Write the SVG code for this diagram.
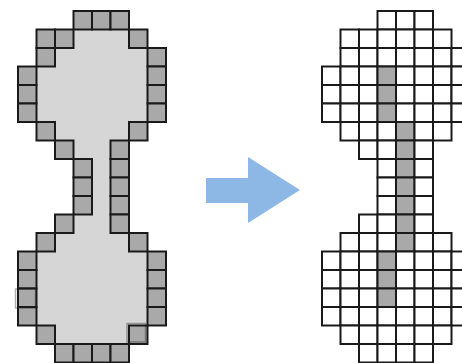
<svg xmlns="http://www.w3.org/2000/svg" width="462" height="363" viewBox="0 0 462 363">
<style>
.b{fill:#a9a9a9;stroke:#1a1a1a;stroke-width:2}
.w{fill:#ffffff;stroke:#1a1a1a;stroke-width:2}
.g{fill:#a9a9a9;stroke:#1a1a1a;stroke-width:2}
.ghost{fill:none;stroke:#1a1a1a;stroke-width:1.5;opacity:0.35}
</style>
<rect x="0" y="0" width="462" height="363" fill="#ffffff"/>
<g id="before">
<polygon fill="#d6d6d6" points="73.5,29.5 129,29.5 129,48 147.5,48 147.5,122 129,122 129,140.5 110.5,140.5 110.5,233 129,233 129,251.5 147.5,251.5 147.5,325.5 129,325.5 129,344 55,344 55,325.5 36.5,325.5 36.5,251.5 55,251.5 55,233 73.5,233 73.5,214.5 92,214.5 92,159 73.5,159 73.5,140.5 55,140.5 55,122 36.5,122 36.5,66.5 55,66.5 55,48 73.5,48"/>
<g>
<rect class="b" x="73.5" y="11" width="18.5" height="18.5"/><rect class="b" x="92" y="11" width="18.5" height="18.5"/><rect class="b" x="110.5" y="11" width="18.5" height="18.5"/>
<rect class="b" x="36.5" y="29.5" width="18.5" height="18.5"/><rect class="b" x="55" y="29.5" width="18.5" height="18.5"/><rect class="b" x="129" y="29.5" width="18.5" height="18.5"/>
<rect class="b" x="36.5" y="48" width="18.5" height="18.5"/><rect class="b" x="147.5" y="48" width="18.5" height="18.5"/>
<rect class="b" x="18" y="66.5" width="18.5" height="18.5"/><rect class="b" x="147.5" y="66.5" width="18.5" height="18.5"/>
<rect class="b" x="18" y="85" width="18.5" height="18.5"/><rect class="b" x="147.5" y="85" width="18.5" height="18.5"/>
<rect class="b" x="18" y="103.5" width="18.5" height="18.5"/><rect class="b" x="147.5" y="103.5" width="18.5" height="18.5"/>
<rect class="b" x="36.5" y="122" width="18.5" height="18.5"/><rect class="b" x="129" y="122" width="18.5" height="18.5"/>
<rect class="b" x="55" y="140.5" width="18.5" height="18.5"/><rect class="b" x="110.5" y="140.5" width="18.5" height="18.5"/>
<rect class="b" x="73.5" y="159" width="18.5" height="18.5"/><rect class="b" x="110.5" y="159" width="18.5" height="18.5"/>
<rect class="b" x="73.5" y="177.5" width="18.5" height="18.5"/><rect class="b" x="110.5" y="177.5" width="18.5" height="18.5"/>
<rect class="b" x="73.5" y="196" width="18.5" height="18.5"/><rect class="b" x="110.5" y="196" width="18.5" height="18.5"/>
<rect class="b" x="55" y="214.5" width="18.5" height="18.5"/><rect class="b" x="110.5" y="214.5" width="18.5" height="18.5"/>
<rect class="b" x="36.5" y="233" width="18.5" height="18.5"/><rect class="b" x="129" y="233" width="18.5" height="18.5"/>
<rect class="b" x="18" y="251.5" width="18.5" height="18.5"/><rect class="b" x="147.5" y="251.5" width="18.5" height="18.5"/>
<rect class="b" x="18" y="270" width="18.5" height="18.5"/><rect class="b" x="147.5" y="270" width="18.5" height="18.5"/>
<rect class="b" x="18" y="288.5" width="18.5" height="18.5"/><rect class="b" x="147.5" y="288.5" width="18.5" height="18.5"/>
<rect class="b" x="18" y="307" width="18.5" height="18.5"/><rect class="b" x="147.5" y="307" width="18.5" height="18.5"/>
<rect class="b" x="36.5" y="325.5" width="18.5" height="18.5"/><rect class="b" x="129" y="325.5" width="18.5" height="18.5"/>
<rect class="b" x="55" y="344" width="18.5" height="18.5"/><rect class="b" x="73.5" y="344" width="18.5" height="18.5"/><rect class="b" x="92" y="344" width="18.5" height="18.5"/><rect class="b" x="110.5" y="344" width="18.5" height="18.5"/>
<rect class="ghost" x="15.5" y="289" width="20" height="19"/>
<rect class="ghost" x="127" y="323.5" width="18.5" height="18.5"/>
</g>
</g>
<g id="arrow">
<polygon fill="#8db8e5" points="206,178 248,178 248,157 300,190 248,223 248,203 206,203"/>
</g>
<g id="after">
<rect class="w" x="377.5" y="11" width="18.5" height="18.5"/><rect class="w" x="396" y="11" width="18.5" height="18.5"/><rect class="w" x="414.5" y="11" width="18.5" height="18.5"/>
<rect class="w" x="340.5" y="29.5" width="18.5" height="18.5"/><rect class="w" x="359" y="29.5" width="18.5" height="18.5"/><rect class="w" x="377.5" y="29.5" width="18.5" height="18.5"/><rect class="w" x="396" y="29.5" width="18.5" height="18.5"/><rect class="w" x="414.5" y="29.5" width="18.5" height="18.5"/><rect class="w" x="433" y="29.5" width="18.5" height="18.5"/>
<rect class="w" x="340.5" y="48" width="18.5" height="18.5"/><rect class="w" x="359" y="48" width="18.5" height="18.5"/><rect class="w" x="377.5" y="48" width="18.5" height="18.5"/><rect class="w" x="396" y="48" width="18.5" height="18.5"/><rect class="w" x="414.5" y="48" width="18.5" height="18.5"/><rect class="w" x="433" y="48" width="18.5" height="18.5"/><rect class="w" x="451.5" y="48" width="18.5" height="18.5"/>
<rect class="w" x="322" y="66.5" width="18.5" height="18.5"/><rect class="w" x="340.5" y="66.5" width="18.5" height="18.5"/><rect class="w" x="359" y="66.5" width="18.5" height="18.5"/><rect class="g" x="377.5" y="66.5" width="18.5" height="18.5"/><rect class="w" x="396" y="66.5" width="18.5" height="18.5"/><rect class="w" x="414.5" y="66.5" width="18.5" height="18.5"/><rect class="w" x="433" y="66.5" width="18.5" height="18.5"/><rect class="w" x="451.5" y="66.5" width="18.5" height="18.5"/>
<rect class="w" x="322" y="85" width="18.5" height="18.5"/><rect class="w" x="340.5" y="85" width="18.5" height="18.5"/><rect class="w" x="359" y="85" width="18.5" height="18.5"/><rect class="g" x="377.5" y="85" width="18.5" height="18.5"/><rect class="w" x="396" y="85" width="18.5" height="18.5"/><rect class="w" x="414.5" y="85" width="18.5" height="18.5"/><rect class="w" x="433" y="85" width="18.5" height="18.5"/><rect class="w" x="451.5" y="85" width="18.5" height="18.5"/>
<rect class="w" x="322" y="103.5" width="18.5" height="18.5"/><rect class="w" x="340.5" y="103.5" width="18.5" height="18.5"/><rect class="w" x="359" y="103.5" width="18.5" height="18.5"/><rect class="g" x="377.5" y="103.5" width="18.5" height="18.5"/><rect class="w" x="396" y="103.5" width="18.5" height="18.5"/><rect class="w" x="414.5" y="103.5" width="18.5" height="18.5"/><rect class="w" x="433" y="103.5" width="18.5" height="18.5"/><rect class="w" x="451.5" y="103.5" width="18.5" height="18.5"/>
<rect class="w" x="340.5" y="122" width="18.5" height="18.5"/><rect class="w" x="359" y="122" width="18.5" height="18.5"/><rect class="w" x="377.5" y="122" width="18.5" height="18.5"/><rect class="g" x="396" y="122" width="18.5" height="18.5"/><rect class="w" x="414.5" y="122" width="18.5" height="18.5"/><rect class="w" x="433" y="122" width="18.5" height="18.5"/>
<rect class="w" x="359" y="140.5" width="18.5" height="18.5"/><rect class="w" x="377.5" y="140.5" width="18.5" height="18.5"/><rect class="g" x="396" y="140.5" width="18.5" height="18.5"/><rect class="w" x="414.5" y="140.5" width="18.5" height="18.5"/>
<rect class="w" x="377.5" y="159" width="18.5" height="18.5"/><rect class="g" x="396" y="159" width="18.5" height="18.5"/><rect class="w" x="414.5" y="159" width="18.5" height="18.5"/>
<rect class="w" x="377.5" y="177.5" width="18.5" height="18.5"/><rect class="g" x="396" y="177.5" width="18.5" height="18.5"/><rect class="w" x="414.5" y="177.5" width="18.5" height="18.5"/>
<rect class="w" x="377.5" y="196" width="18.5" height="18.5"/><rect class="g" x="396" y="196" width="18.5" height="18.5"/><rect class="w" x="414.5" y="196" width="18.5" height="18.5"/>
<rect class="w" x="359" y="214.5" width="18.5" height="18.5"/><rect class="w" x="377.5" y="214.5" width="18.5" height="18.5"/><rect class="g" x="396" y="214.5" width="18.5" height="18.5"/><rect class="w" x="414.5" y="214.5" width="18.5" height="18.5"/>
<rect class="w" x="340.5" y="233" width="18.5" height="18.5"/><rect class="w" x="359" y="233" width="18.5" height="18.5"/><rect class="w" x="377.5" y="233" width="18.5" height="18.5"/><rect class="g" x="396" y="233" width="18.5" height="18.5"/><rect class="w" x="414.5" y="233" width="18.5" height="18.5"/><rect class="w" x="433" y="233" width="18.5" height="18.5"/>
<rect class="w" x="322" y="251.5" width="18.5" height="18.5"/><rect class="w" x="340.5" y="251.5" width="18.5" height="18.5"/><rect class="w" x="359" y="251.5" width="18.5" height="18.5"/><rect class="g" x="377.5" y="251.5" width="18.5" height="18.5"/><rect class="w" x="396" y="251.5" width="18.5" height="18.5"/><rect class="w" x="414.5" y="251.5" width="18.5" height="18.5"/><rect class="w" x="433" y="251.5" width="18.5" height="18.5"/><rect class="w" x="451.5" y="251.5" width="18.5" height="18.5"/>
<rect class="w" x="322" y="270" width="18.5" height="18.5"/><rect class="w" x="340.5" y="270" width="18.5" height="18.5"/><rect class="w" x="359" y="270" width="18.5" height="18.5"/><rect class="g" x="377.5" y="270" width="18.5" height="18.5"/><rect class="w" x="396" y="270" width="18.5" height="18.5"/><rect class="w" x="414.5" y="270" width="18.5" height="18.5"/><rect class="w" x="433" y="270" width="18.5" height="18.5"/><rect class="w" x="451.5" y="270" width="18.5" height="18.5"/>
<rect class="w" x="322" y="288.5" width="18.5" height="18.5"/><rect class="w" x="340.5" y="288.5" width="18.5" height="18.5"/><rect class="w" x="359" y="288.5" width="18.5" height="18.5"/><rect class="g" x="377.5" y="288.5" width="18.5" height="18.5"/><rect class="w" x="396" y="288.5" width="18.5" height="18.5"/><rect class="w" x="414.5" y="288.5" width="18.5" height="18.5"/><rect class="w" x="433" y="288.5" width="18.5" height="18.5"/><rect class="w" x="451.5" y="288.5" width="18.5" height="18.5"/>
<rect class="w" x="322" y="307" width="18.5" height="18.5"/><rect class="w" x="340.5" y="307" width="18.5" height="18.5"/><rect class="w" x="359" y="307" width="18.5" height="18.5"/><rect class="w" x="377.5" y="307" width="18.5" height="18.5"/><rect class="w" x="396" y="307" width="18.5" height="18.5"/><rect class="w" x="414.5" y="307" width="18.5" height="18.5"/><rect class="w" x="433" y="307" width="18.5" height="18.5"/><rect class="w" x="451.5" y="307" width="18.5" height="18.5"/>
<rect class="w" x="340.5" y="325.5" width="18.5" height="18.5"/><rect class="w" x="359" y="325.5" width="18.5" height="18.5"/><rect class="w" x="377.5" y="325.5" width="18.5" height="18.5"/><rect class="w" x="396" y="325.5" width="18.5" height="18.5"/><rect class="w" x="414.5" y="325.5" width="18.5" height="18.5"/><rect class="w" x="433" y="325.5" width="18.5" height="18.5"/>
<rect class="w" x="359" y="344" width="18.5" height="18.5"/><rect class="w" x="377.5" y="344" width="18.5" height="18.5"/><rect class="w" x="396" y="344" width="18.5" height="18.5"/><rect class="w" x="414.5" y="344" width="18.5" height="18.5"/>
</g>
</svg>
